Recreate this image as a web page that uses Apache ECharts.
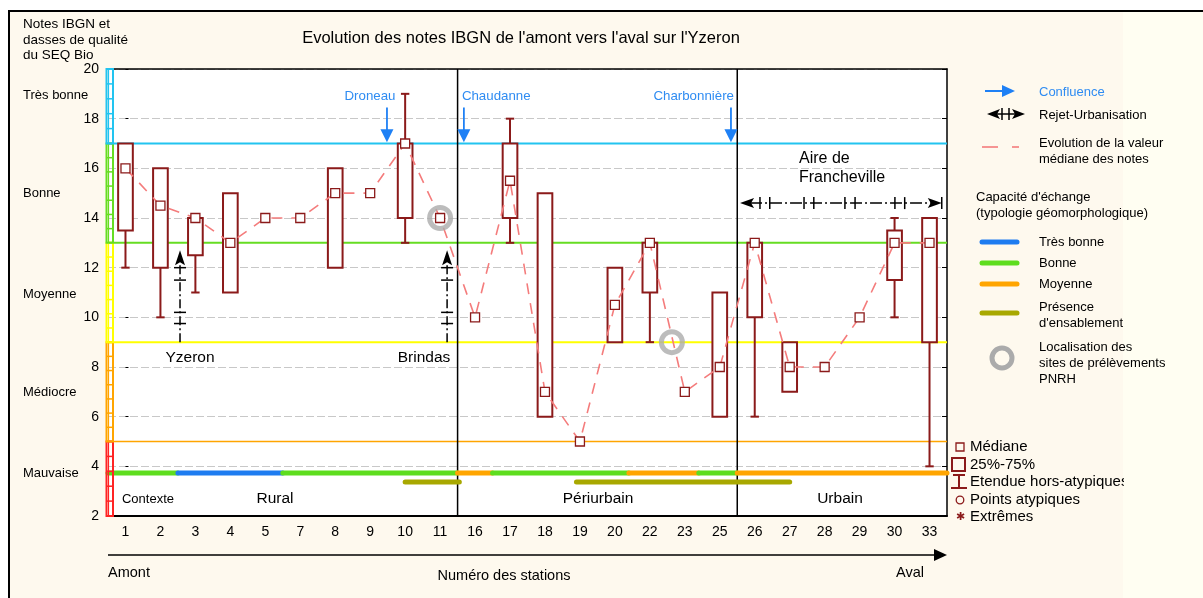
<!DOCTYPE html>
<html><head><meta charset="utf-8">
<script src="https://cdn.jsdelivr.net/npm/echarts@6/dist/echarts.min.js"></script>
<style>
html,body{margin:0;padding:0;background:#fff;}
#wrap{position:relative;width:1203px;height:598px;overflow:hidden;}
#bg{position:absolute;left:8px;top:10px;width:1300px;height:700px;background:#FEF9EE;border-top:2px solid #000;border-left:2px solid #000;}
#bg2{position:absolute;left:1123px;top:12px;width:100px;height:700px;background:#FFFEF2;}
#chart{position:absolute;left:0;top:0;width:1203px;height:598px;}
</style></head>
<body><div id="wrap"><div id="bg"></div><div id="bg2"></div><div id="chart"></div></div>
<script>
// ---------- DATA ----------
const stations = ['1','2','3','4','5','7','8','9','10','11','16','17','18','19','20','22','23','25','26','27','28','29','30','33'];
const medians  = [16,14.5,14,13,14,14,15,15,17,14,10,15.5,7,5,10.5,13,7,8,13,8,8,10,13,13];
const boxLow   = [12,10,11,11,null,null,12,null,13,null,null,13,6,null,9,9,null,6,6,7,null,null,10,4];
const boxQ1    = [13.5,12,12.5,11,null,null,12,null,14,null,null,14,6,null,9,11,null,6,10,7,null,null,11.5,9];
const boxQ3    = [17,16,14,15,null,null,16,null,17,null,null,17,15,null,12,13,null,11,13,9,null,null,13.5,14];
const boxHigh  = [17,16,14,15,null,null,16,null,19,null,null,18,15,null,12,13,null,11,13,9,null,null,14,14];
const yTicks = [2,20,2]; // min, max, interval

const classNames = ['Mauvaise','Médiocre','Moyenne','Bonne','Très bonne'];
const classLow   = [2,5,9,13,17];
const classHigh  = [5,9,13,17,20];
const classColor = ['#FF2424','#FFA500','#FFFF00','#66DD22','#22C4F0'];
const thresholds = [17,13,9,5];
const thresholdColor = ['#22C4F0','#66DD22','#FFFF00','#FFA500'];
const sectionBounds = [9.5,17.5];
const sectionNames = ['Rural','Périurbain','Urbain'];

const capStart = [-0.5,1.5,4.5,9.5,10.5,14.4,16.4,17.5];
const capEnd   = [1.5,4.5,9.5,10.5,14.4,16.4,17.5,23.5];
const capType  = [1,0,1,2,1,2,1,2]; // 0 très bonne,1 bonne,2 moyenne
const capLevel = 3.73;
const sandStart = [8.0,12.9];
const sandEnd   = [9.55,19.0];
const sandLevel = 3.37;

const circX = [9.0,15.63];
const circY = [14,9];

const rejetX = [1.56,9.2];
const rejetFrom = [9,9];
const rejetTo = [12.7,12.7];
const rejetTicks = [12,11.5,10.2,9.75];

const franchFrom = 17.58, franchTo = 23.35, franchY = 14.6;
const franchTicks = [18.15,18.43,19.41,19.69,20.58,20.87,22.01,22.29];

const confX = [7.48,9.68,17.32];
const confFrom = 18.45, confTo = 17.05;
const confLabels = ['Droneau','Chaudanne','Charbonnière'];
const confAlign = ['center','left','right'];

// ---------- STYLE ----------
const FONT = 'Liberation Sans, Arial, sans-serif';
const DARK = '#8B1A1A';
const PINK = '#F47C7C';
const BLUE = '#1E80F5';
const capColors = ['#1E7CF0','#5EDD1E','#FFA500'];
const OLIVE = '#A8A800';
const GREY = '#ABABAB';

const chart = echarts.init(document.getElementById('chart'), null, {renderer:'canvas'});

function T(text, x, y, size, opts) {
  opts = opts || {};
  return {type:'text', x:x, y:y, z: opts.z || 10, silent:true,
    style:{text:text, font:(opts.weight||'normal')+' '+size+'px '+FONT, fill:opts.color||'#000',
      textAlign:opts.align||'left', textVerticalAlign:'middle'}};
}
function L(x1,y1,x2,y2,color,w,dash){
  return {type:'line', z:10, silent:true, shape:{x1:x1,y1:y1,x2:x2,y2:y2}, style:{stroke:color,lineWidth:w,lineDash:dash||null}};
}
function P(points,color){ return {type:'polygon', z:10, silent:true, shape:{points:points}, style:{fill:color}}; }

const series = [];

// threshold lines
thresholds.forEach((t,k)=>{
  series.push({type:'line', xAxisIndex:2, yAxisIndex:0, data:[[-0.5,t],[23.5,t]], symbol:'none', silent:true,
    lineStyle:{color:thresholdColor[k], width: k===3?1.5:2}, z:2, animation:false});
});
// section separators
sectionBounds.forEach(b=>{
  series.push({type:'line', xAxisIndex:2, yAxisIndex:0, data:[[b,2],[b,20]], symbol:'none', silent:true,
    lineStyle:{color:'#000', width:1.5}, z:2, animation:false});
});

// capacity bars
const capData = capStart.map((s,i)=>[s, capEnd[i], capType[i]]);
series.push({type:'custom', xAxisIndex:2, yAxisIndex:0, data:capData, z:3, silent:true, animation:false,
  renderItem:(params, api)=>{
    const p0 = api.coord([api.value(0), capLevel]);
    const p1 = api.coord([api.value(1), capLevel]);
    return {type:'line', shape:{x1:p0[0],y1:p0[1],x2:p1[0],y2:p1[1]}, style:{stroke:capColors[api.value(2)], lineWidth:5, lineCap:'round'}};
  }});
const sandData = sandStart.map((s,i)=>[s, sandEnd[i]]);
series.push({type:'custom', xAxisIndex:2, yAxisIndex:0, data:sandData, z:3, silent:true, animation:false,
  renderItem:(params, api)=>{
    const p0 = api.coord([api.value(0), sandLevel]);
    const p1 = api.coord([api.value(1), sandLevel]);
    return {type:'line', shape:{x1:p0[0],y1:p0[1],x2:p1[0],y2:p1[1]}, style:{stroke:OLIVE, lineWidth:5, lineCap:'round'}};
  }});

// boxes
const boxData = [];
stations.forEach((s,i)=>{ if (boxQ1[i]!==null) boxData.push([i, boxLow[i], boxQ1[i], boxQ3[i], boxHigh[i]]); });
series.push({type:'custom', xAxisIndex:0, yAxisIndex:0, data:boxData, z:4, silent:true, animation:false,
  renderItem:(params, api)=>{
    const i = api.value(0);
    const low=api.value(1), q1=api.value(2), q3=api.value(3), high=api.value(4);
    const band = api.size([1,0])[0];
    const w = band*0.42, cw = band*0.24;
    const pt = api.coord([i,q3]), pb = api.coord([i,q1]);
    const ch = [{type:'rect', shape:{x:pt[0]-w/2, y:pt[1], width:w, height:pb[1]-pt[1]}, style:{fill:'#fff', stroke:DARK, lineWidth:2}}];
    if (low < q1) {
      const pl = api.coord([i,low]);
      ch.push({type:'line', shape:{x1:pb[0],y1:pb[1],x2:pl[0],y2:pl[1]}, style:{stroke:DARK,lineWidth:2}});
      ch.push({type:'line', shape:{x1:pl[0]-cw/2,y1:pl[1],x2:pl[0]+cw/2,y2:pl[1]}, style:{stroke:DARK,lineWidth:2}});
    }
    if (high > q3) {
      const ph = api.coord([i,high]);
      ch.push({type:'line', shape:{x1:pt[0],y1:pt[1],x2:ph[0],y2:ph[1]}, style:{stroke:DARK,lineWidth:2}});
      ch.push({type:'line', shape:{x1:ph[0]-cw/2,y1:ph[1],x2:ph[0]+cw/2,y2:ph[1]}, style:{stroke:DARK,lineWidth:2}});
    }
    return {type:'group', children:ch};
  }});

// median line
series.push({type:'line', xAxisIndex:0, yAxisIndex:0, data:medians, symbol:'rect', symbolSize:9, z:5, silent:true, animation:false,
  itemStyle:{color:'#fff', borderColor:DARK, borderWidth:1.3},
  lineStyle:{color:PINK, width:1.6, type:[11,9]}});

// grey circles
series.push({type:'scatter', xAxisIndex:2, yAxisIndex:0, data:circX.map((x,i)=>[x,circY[i]]), symbol:'circle', symbolSize:21, z:6, silent:true, animation:false,
  itemStyle:{color:'rgba(0,0,0,0)', borderColor:GREY, borderWidth:5}});

// rejet arrows (vertical)
series.push({type:'custom', xAxisIndex:2, yAxisIndex:0, data:rejetX.map((x,i)=>[x,rejetFrom[i],rejetTo[i]]), z:6, silent:true, animation:false,
  renderItem:(params, api)=>{
    const x = api.value(0);
    const p0 = api.coord([x, api.value(1)]), p1 = api.coord([x, api.value(2)]);
    const ch = [
      {type:'line', shape:{x1:p0[0],y1:p0[1],x2:p1[0],y2:p1[1]+12}, style:{stroke:'#000',lineWidth:1.5,lineDash:[9,3,2,3]}},
      {type:'polygon', shape:{points:[[p1[0],p1[1]],[p1[0]-5,p1[1]+15],[p1[0],p1[1]+12],[p1[0]+5,p1[1]+15]]}, style:{fill:'#000'}}
    ];
    rejetTicks.forEach(t=>{ const q = api.coord([x,t]); ch.push({type:'line', shape:{x1:q[0]-6,y1:q[1],x2:q[0]+6,y2:q[1]}, style:{stroke:'#000',lineWidth:1.5}}); });
    return {type:'group', children:ch};
  }});

// Francheville horizontal arrow
series.push({type:'custom', xAxisIndex:2, yAxisIndex:0, data:[[franchFrom, franchTo, franchY]], z:6, silent:true, animation:false,
  renderItem:(params, api)=>{
    const y = api.value(2);
    const p0 = api.coord([api.value(0), y]), p1 = api.coord([api.value(1), y]);
    const ch = [
      {type:'line', shape:{x1:p0[0]+10,y1:p0[1],x2:p1[0]-10,y2:p1[1]}, style:{stroke:'#000',lineWidth:1.5,lineDash:[12,3,2,3]}},
      {type:'polygon', shape:{points:[[p0[0],p0[1]],[p0[0]+14,p0[1]-5],[p0[0]+11,p0[1]],[p0[0]+14,p0[1]+5]]}, style:{fill:'#000'}},
      {type:'polygon', shape:{points:[[p1[0],p1[1]],[p1[0]-14,p1[1]-5],[p1[0]-11,p1[1]],[p1[0]-14,p1[1]+5]]}, style:{fill:'#000'}},
      {type:'line', shape:{x1:p1[0],y1:p1[1]-6,x2:p1[0],y2:p1[1]+6}, style:{stroke:'#000',lineWidth:1.5}}
    ];
    franchTicks.forEach(t=>{ const q = api.coord([t,y]); ch.push({type:'line', shape:{x1:q[0],y1:q[1]-6,x2:q[0],y2:q[1]+6}, style:{stroke:'#000',lineWidth:1.5}}); });
    return {type:'group', children:ch};
  }});

// confluence arrows
series.push({type:'custom', xAxisIndex:2, yAxisIndex:0, data:confX.map(x=>[x, confFrom, confTo]), z:6, silent:true, animation:false,
  renderItem:(params, api)=>{
    const x = api.value(0);
    const p0 = api.coord([x, api.value(1)]), p1 = api.coord([x, api.value(2)]);
    const al = confAlign[params.dataIndex];
    const lx = al==='center' ? p0[0]-17 : (al==='left' ? p0[0]-2 : p0[0]+3);
    return {type:'group', children:[
      {type:'line', shape:{x1:p0[0],y1:p0[1],x2:p1[0],y2:p1[1]-12}, style:{stroke:BLUE,lineWidth:1.8}},
      {type:'polygon', shape:{points:[[p1[0],p1[1]],[p1[0]-6.5,p1[1]-13],[p1[0]+6.5,p1[1]-13]]}, style:{fill:BLUE}},
      {type:'text', x:lx, y:p0[1]-11, style:{text:confLabels[params.dataIndex], font:'13.3px '+FONT, fill:'#2F8CF2', textAlign:al, textVerticalAlign:'middle'}}
    ]};
  }});

// quality class column on the left
series.push({type:'custom', xAxisIndex:2, yAxisIndex:0, data:classLow.map((lo,i)=>[lo, classHigh[i], i]), z:7, silent:true, animation:false,
  renderItem:(params, api)=>{
    const lo = api.value(0), hi = api.value(1), c = classColor[api.value(2)];
    const pl = api.coord([-0.5, lo]), ph = api.coord([-0.5, hi]);
    const x = pl[0]-1.5;
    const ch = [{type:'rect', shape:{x:x, y:ph[1], width:6.5, height:pl[1]-ph[1]}, style:{fill:'rgba(255,255,255,0)', stroke:c, lineWidth:2}},
      {type:'line', shape:{x1:x+2,y1:ph[1],x2:x+2,y2:pl[1]}, style:{stroke:c,lineWidth:1.2}}];
    const n = Math.round((hi-lo)/0.6);
    for (let k=1;k<n;k++){ const yy = ph[1] + (pl[1]-ph[1])*k/n; ch.push({type:'line', shape:{x1:x,y1:yy,x2:x+6.5,y2:yy}, style:{stroke:c,lineWidth:1.5}}); }
    return {type:'group', children:ch};
  }});

// ---------- GRAPHIC (texts, legends) ----------
const g = [];
g.push(T("Evolution des notes IBGN de l'amont vers l'aval sur l'Yzeron", 521, 38, 16.5, {align:'center'}));
g.push(T('Notes IBGN et', 23, 24, 13.5));
g.push(T('dasses de qualité', 23, 40, 13.5));
g.push(T('du SEQ Bio', 23, 55, 13.5));
const classLabelY = [473, 392, 294, 193, 95];
classNames.forEach((n,i)=> g.push(T(n, 23, classLabelY[i], 13)));
g.push(T('Yzeron', 190, 358, 15.5, {align:'center'}));
g.push(T('Brindas', 424, 358, 15.5, {align:'center'}));
g.push(T('Contexte', 148, 499, 13, {align:'center'}));
g.push(T(sectionNames[0], 275, 499, 15.5, {align:'center'}));
g.push(T(sectionNames[1], 598, 499, 15.5, {align:'center'}));
g.push(T(sectionNames[2], 840, 499, 15.5, {align:'center'}));
g.push(T('Aire de', 799, 159, 16));
g.push(T('Francheville', 799, 178, 16));
// bottom arrow and labels
g.push(L(108, 555, 936, 555, '#000', 1.5));
g.push(P([[947,555],[934,549],[934,561]], '#000'));
g.push(T('Amont', 108, 573, 14.5));
g.push(T('Numéro des stations', 504, 576, 14.5, {align:'center'}));
g.push(T('Aval', 896, 573, 14.5));
// right legend
g.push(L(985, 91, 1003, 91, BLUE, 2));
g.push(P([[1015,91],[1002,85],[1002,97]], BLUE));
g.push(T('Confluence', 1039, 92, 13, {color:'#2F8CF2'}));
g.push(L(995, 114, 1016, 114, '#000', 1.5));
g.push(P([[987,114],[1000,109],[997,114],[1000,119]], '#000'));
g.push(P([[1025,114],[1012,109],[1015,114],[1012,119]], '#000'));
g.push(L(1002, 108, 1002, 120, '#000', 1.5));
g.push(L(1009, 108, 1009, 120, '#000', 1.5));
g.push(T('Rejet-Urbanisation', 1039, 115, 13));
g.push(L(982, 147, 998, 147, PINK, 1.6));
g.push(L(1012, 147, 1019, 147, PINK, 1.6));
g.push(T('Evolution de la valeur', 1039, 143, 13));
g.push(T('médiane des notes', 1039, 159, 13));
g.push(T("Capacité d'échange", 976, 197, 13));
g.push(T('(typologie géomorphologique)', 976, 213, 13));
const legCapY = [242, 263, 284, 313];
const legCapCol = [capColors[0], capColors[1], capColors[2], OLIVE];
legCapY.forEach((y,i)=> g.push({type:'line', z:10, silent:true, shape:{x1:982,y1:y,x2:1017,y2:y}, style:{stroke:legCapCol[i], lineWidth:5, lineCap:'round'}}));
g.push(T('Très bonne', 1039, 242, 13));
g.push(T('Bonne', 1039, 263, 13));
g.push(T('Moyenne', 1039, 284, 13));
g.push(T('Présence', 1039, 307, 13));
g.push(T("d'ensablement", 1039, 323, 13));
g.push({type:'circle', z:10, silent:true, shape:{cx:1002, cy:358, r:10}, style:{fill:'none', stroke:GREY, lineWidth:5}});
g.push(T('Localisation des', 1039, 347, 13));
g.push(T('sites de prélèvements', 1039, 363, 13));
g.push(T('PNRH', 1039, 379, 13));
// box legend
g.push({type:'rect', z:10, silent:true, shape:{x:956, y:443, width:8, height:8}, style:{fill:'none', stroke:DARK, lineWidth:1.3}});
g.push(T('Médiane', 970, 447, 15));
g.push({type:'rect', z:10, silent:true, shape:{x:952, y:458, width:13, height:13}, style:{fill:'none', stroke:DARK, lineWidth:2}});
g.push(T('25%-75%', 970, 465, 15));
g.push(L(959, 475, 959, 488, DARK, 2));
g.push(L(953, 475, 965, 475, DARK, 2));
g.push(L(951, 488, 967, 488, DARK, 2));
g.push(T('Etendue hors-atypiques', 970, 482, 15));
g.push({type:'rect', z:11, silent:true, shape:{x:1124, y:472, width:80, height:18}, style:{fill:'#FFFEF2'}});
g.push({type:'circle', z:10, silent:true, shape:{cx:960, cy:500, r:3.8}, style:{fill:'none', stroke:DARK, lineWidth:1.3}});
g.push(T('Points atypiques', 970, 500, 15));
g.push(T('✱', 960, 517, 11, {align:'center', color:DARK}));
g.push(T('Extrêmes', 970, 517, 15));

const option = {
  backgroundColor:'transparent',
  animation:false,
  textStyle:{fontFamily:FONT},
  grid:{left:108, right:256, top:69, bottom:82, show:true, backgroundColor:'#fff', borderWidth:0},
  xAxis:[
    {type:'category', data:stations, position:'bottom', boundaryGap:true,
      axisLine:{lineStyle:{color:'#000', width:2}},
      axisTick:{inside:true, alignWithLabel:true, length:4, lineStyle:{color:'#000'}},
      axisLabel:{color:'#000', fontSize:14, margin:9, fontFamily:FONT}, splitLine:{show:false}},
    {type:'category', data:stations, position:'top', boundaryGap:true,
      axisLine:{lineStyle:{color:'#000', width:1.5}},
      axisTick:{inside:true, alignWithLabel:true, length:4, lineStyle:{color:'#000'}},
      axisLabel:{show:false}, splitLine:{show:false}},
    {type:'value', min:-0.5, max:23.5, show:false, splitLine:{show:false}}
  ],
  yAxis:[
    {type:'value', min:yTicks[0], max:yTicks[1], interval:yTicks[2], position:'left',
      axisLine:{show:false}, axisTick:{show:true, inside:true, length:3, lineStyle:{color:'#000'}},
      axisLabel:{color:'#000', fontSize:14, margin:9, fontFamily:FONT},
      splitLine:{show:true, lineStyle:{color:'#C8C8C8', type:[8,3], width:1}}},
    {type:'value', min:yTicks[0], max:yTicks[1], interval:yTicks[2], position:'right',
      axisLine:{show:true, lineStyle:{color:'#000', width:1.5}},
      axisTick:{show:true, inside:true, length:5, lineStyle:{color:'#000'}},
      axisLabel:{show:false}, splitLine:{show:false}}
  ],
  series: series,
  graphic: g
};
chart.setOption(option);
</script>
</body></html>
